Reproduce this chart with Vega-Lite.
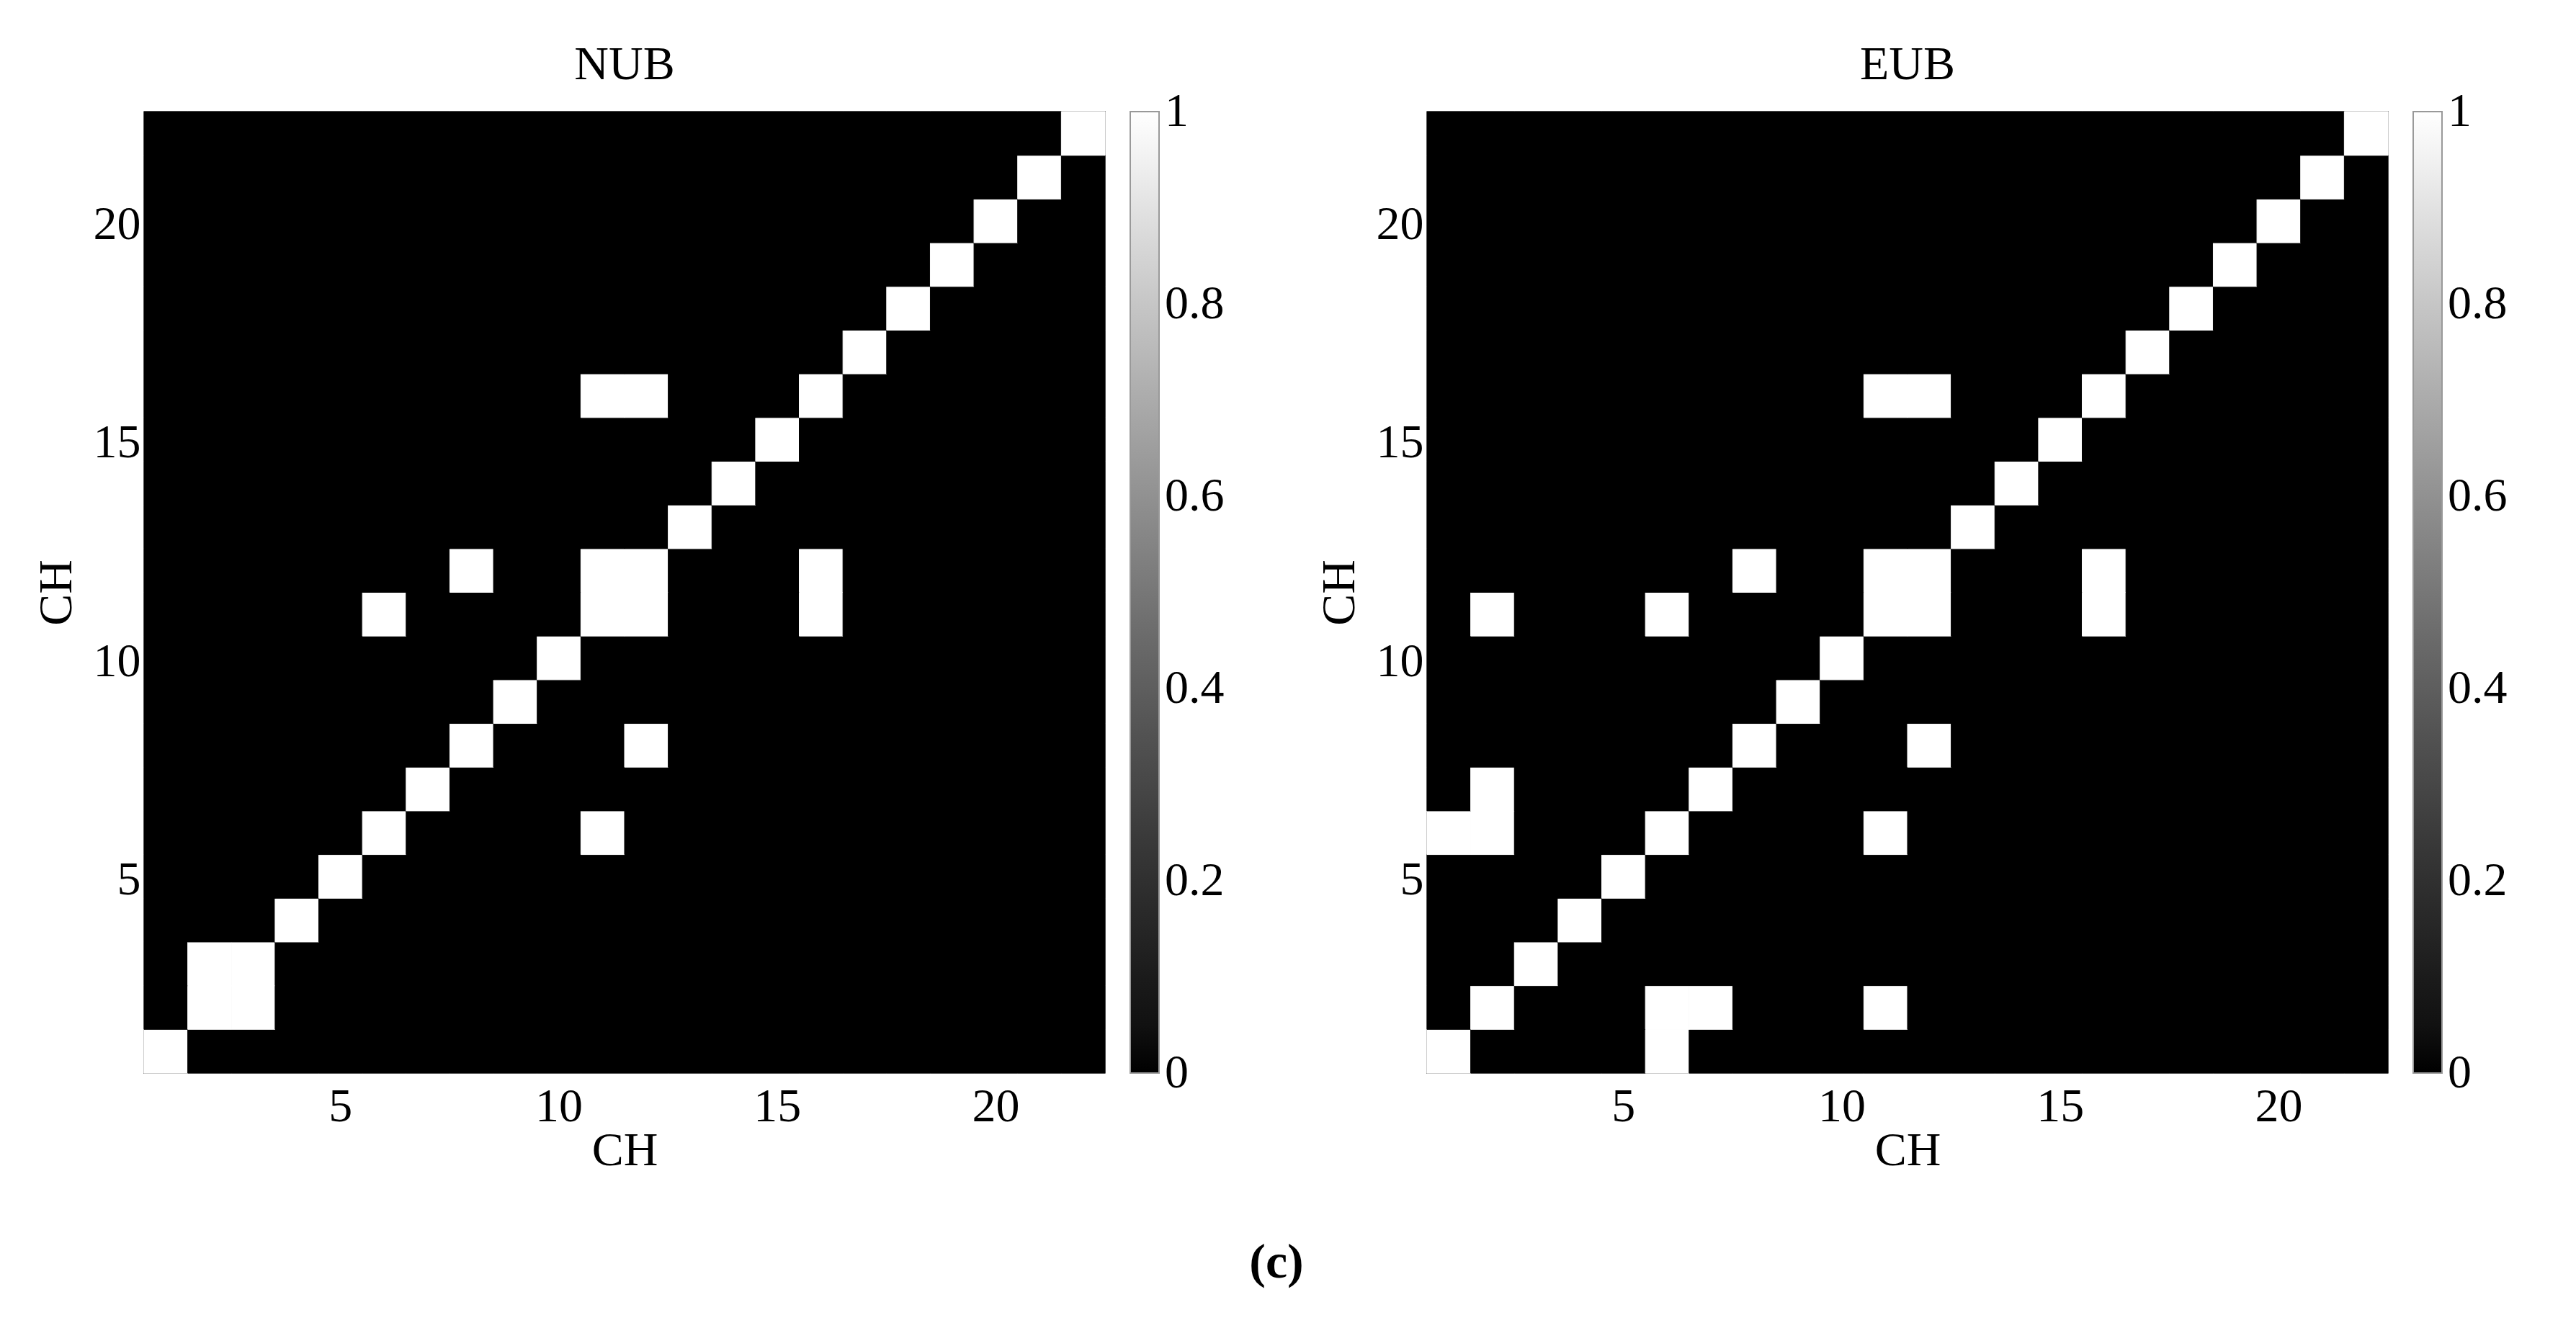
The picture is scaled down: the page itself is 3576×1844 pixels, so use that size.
{
"$schema": "https://vega.github.io/schema/vega-lite/v6.json",
"background": "white",
"padding": {"left": 44, "top": 55, "right": 20, "bottom": 20},
"title": {"text": "(c)", "orient": "bottom", "anchor": "middle", "fontSize": 68, "fontWeight": "bold", "offset": 89, "dx": 9},
"config": {
  "font": "Liberation Serif",
  "view": {"stroke": "#999999", "strokeWidth": 2, "fill": "#000000"},
  "axis": {"labelFont": "Liberation Serif", "labelFontSize": 66, "labelColor": "#000000", "titleFont": "Liberation Serif", "titleFontSize": 66, "titleFontWeight": "normal", "titleColor": "#000000", "ticks": false, "tickSize": 0, "domain": false, "grid": false},
  "axisX": {"labelPadding": 14, "titlePadding": -4, "labelAngle": 0},
  "axisY": {"labelPadding": 5, "titlePadding": 17, "labelOffset": 5},
  "title": {"font": "Liberation Serif", "fontSize": 66, "fontWeight": "normal", "color": "#000000"}
},
"datasets": {
"nub": [
{"x":1,"y":1,"v":1},{"x":2,"y":1,"v":0},{"x":3,"y":1,"v":0},{"x":4,"y":1,"v":0},{"x":5,"y":1,"v":0},{"x":6,"y":1,"v":0},{"x":7,"y":1,"v":0},{"x":8,"y":1,"v":0},{"x":9,"y":1,"v":0},{"x":10,"y":1,"v":0},{"x":11,"y":1,"v":0},{"x":12,"y":1,"v":0},{"x":13,"y":1,"v":0},{"x":14,"y":1,"v":0},{"x":15,"y":1,"v":0},{"x":16,"y":1,"v":0},{"x":17,"y":1,"v":0},{"x":18,"y":1,"v":0},{"x":19,"y":1,"v":0},{"x":20,"y":1,"v":0},{"x":21,"y":1,"v":0},{"x":22,"y":1,"v":0},
{"x":1,"y":2,"v":0},{"x":2,"y":2,"v":1},{"x":3,"y":2,"v":1},{"x":4,"y":2,"v":0},{"x":5,"y":2,"v":0},{"x":6,"y":2,"v":0},{"x":7,"y":2,"v":0},{"x":8,"y":2,"v":0},{"x":9,"y":2,"v":0},{"x":10,"y":2,"v":0},{"x":11,"y":2,"v":0},{"x":12,"y":2,"v":0},{"x":13,"y":2,"v":0},{"x":14,"y":2,"v":0},{"x":15,"y":2,"v":0},{"x":16,"y":2,"v":0},{"x":17,"y":2,"v":0},{"x":18,"y":2,"v":0},{"x":19,"y":2,"v":0},{"x":20,"y":2,"v":0},{"x":21,"y":2,"v":0},{"x":22,"y":2,"v":0},
{"x":1,"y":3,"v":0},{"x":2,"y":3,"v":1},{"x":3,"y":3,"v":1},{"x":4,"y":3,"v":0},{"x":5,"y":3,"v":0},{"x":6,"y":3,"v":0},{"x":7,"y":3,"v":0},{"x":8,"y":3,"v":0},{"x":9,"y":3,"v":0},{"x":10,"y":3,"v":0},{"x":11,"y":3,"v":0},{"x":12,"y":3,"v":0},{"x":13,"y":3,"v":0},{"x":14,"y":3,"v":0},{"x":15,"y":3,"v":0},{"x":16,"y":3,"v":0},{"x":17,"y":3,"v":0},{"x":18,"y":3,"v":0},{"x":19,"y":3,"v":0},{"x":20,"y":3,"v":0},{"x":21,"y":3,"v":0},{"x":22,"y":3,"v":0},
{"x":1,"y":4,"v":0},{"x":2,"y":4,"v":0},{"x":3,"y":4,"v":0},{"x":4,"y":4,"v":1},{"x":5,"y":4,"v":0},{"x":6,"y":4,"v":0},{"x":7,"y":4,"v":0},{"x":8,"y":4,"v":0},{"x":9,"y":4,"v":0},{"x":10,"y":4,"v":0},{"x":11,"y":4,"v":0},{"x":12,"y":4,"v":0},{"x":13,"y":4,"v":0},{"x":14,"y":4,"v":0},{"x":15,"y":4,"v":0},{"x":16,"y":4,"v":0},{"x":17,"y":4,"v":0},{"x":18,"y":4,"v":0},{"x":19,"y":4,"v":0},{"x":20,"y":4,"v":0},{"x":21,"y":4,"v":0},{"x":22,"y":4,"v":0},
{"x":1,"y":5,"v":0},{"x":2,"y":5,"v":0},{"x":3,"y":5,"v":0},{"x":4,"y":5,"v":0},{"x":5,"y":5,"v":1},{"x":6,"y":5,"v":0},{"x":7,"y":5,"v":0},{"x":8,"y":5,"v":0},{"x":9,"y":5,"v":0},{"x":10,"y":5,"v":0},{"x":11,"y":5,"v":0},{"x":12,"y":5,"v":0},{"x":13,"y":5,"v":0},{"x":14,"y":5,"v":0},{"x":15,"y":5,"v":0},{"x":16,"y":5,"v":0},{"x":17,"y":5,"v":0},{"x":18,"y":5,"v":0},{"x":19,"y":5,"v":0},{"x":20,"y":5,"v":0},{"x":21,"y":5,"v":0},{"x":22,"y":5,"v":0},
{"x":1,"y":6,"v":0},{"x":2,"y":6,"v":0},{"x":3,"y":6,"v":0},{"x":4,"y":6,"v":0},{"x":5,"y":6,"v":0},{"x":6,"y":6,"v":1},{"x":7,"y":6,"v":0},{"x":8,"y":6,"v":0},{"x":9,"y":6,"v":0},{"x":10,"y":6,"v":0},{"x":11,"y":6,"v":1},{"x":12,"y":6,"v":0},{"x":13,"y":6,"v":0},{"x":14,"y":6,"v":0},{"x":15,"y":6,"v":0},{"x":16,"y":6,"v":0},{"x":17,"y":6,"v":0},{"x":18,"y":6,"v":0},{"x":19,"y":6,"v":0},{"x":20,"y":6,"v":0},{"x":21,"y":6,"v":0},{"x":22,"y":6,"v":0},
{"x":1,"y":7,"v":0},{"x":2,"y":7,"v":0},{"x":3,"y":7,"v":0},{"x":4,"y":7,"v":0},{"x":5,"y":7,"v":0},{"x":6,"y":7,"v":0},{"x":7,"y":7,"v":1},{"x":8,"y":7,"v":0},{"x":9,"y":7,"v":0},{"x":10,"y":7,"v":0},{"x":11,"y":7,"v":0},{"x":12,"y":7,"v":0},{"x":13,"y":7,"v":0},{"x":14,"y":7,"v":0},{"x":15,"y":7,"v":0},{"x":16,"y":7,"v":0},{"x":17,"y":7,"v":0},{"x":18,"y":7,"v":0},{"x":19,"y":7,"v":0},{"x":20,"y":7,"v":0},{"x":21,"y":7,"v":0},{"x":22,"y":7,"v":0},
{"x":1,"y":8,"v":0},{"x":2,"y":8,"v":0},{"x":3,"y":8,"v":0},{"x":4,"y":8,"v":0},{"x":5,"y":8,"v":0},{"x":6,"y":8,"v":0},{"x":7,"y":8,"v":0},{"x":8,"y":8,"v":1},{"x":9,"y":8,"v":0},{"x":10,"y":8,"v":0},{"x":11,"y":8,"v":0},{"x":12,"y":8,"v":1},{"x":13,"y":8,"v":0},{"x":14,"y":8,"v":0},{"x":15,"y":8,"v":0},{"x":16,"y":8,"v":0},{"x":17,"y":8,"v":0},{"x":18,"y":8,"v":0},{"x":19,"y":8,"v":0},{"x":20,"y":8,"v":0},{"x":21,"y":8,"v":0},{"x":22,"y":8,"v":0},
{"x":1,"y":9,"v":0},{"x":2,"y":9,"v":0},{"x":3,"y":9,"v":0},{"x":4,"y":9,"v":0},{"x":5,"y":9,"v":0},{"x":6,"y":9,"v":0},{"x":7,"y":9,"v":0},{"x":8,"y":9,"v":0},{"x":9,"y":9,"v":1},{"x":10,"y":9,"v":0},{"x":11,"y":9,"v":0},{"x":12,"y":9,"v":0},{"x":13,"y":9,"v":0},{"x":14,"y":9,"v":0},{"x":15,"y":9,"v":0},{"x":16,"y":9,"v":0},{"x":17,"y":9,"v":0},{"x":18,"y":9,"v":0},{"x":19,"y":9,"v":0},{"x":20,"y":9,"v":0},{"x":21,"y":9,"v":0},{"x":22,"y":9,"v":0},
{"x":1,"y":10,"v":0},{"x":2,"y":10,"v":0},{"x":3,"y":10,"v":0},{"x":4,"y":10,"v":0},{"x":5,"y":10,"v":0},{"x":6,"y":10,"v":0},{"x":7,"y":10,"v":0},{"x":8,"y":10,"v":0},{"x":9,"y":10,"v":0},{"x":10,"y":10,"v":1},{"x":11,"y":10,"v":0},{"x":12,"y":10,"v":0},{"x":13,"y":10,"v":0},{"x":14,"y":10,"v":0},{"x":15,"y":10,"v":0},{"x":16,"y":10,"v":0},{"x":17,"y":10,"v":0},{"x":18,"y":10,"v":0},{"x":19,"y":10,"v":0},{"x":20,"y":10,"v":0},{"x":21,"y":10,"v":0},{"x":22,"y":10,"v":0},
{"x":1,"y":11,"v":0},{"x":2,"y":11,"v":0},{"x":3,"y":11,"v":0},{"x":4,"y":11,"v":0},{"x":5,"y":11,"v":0},{"x":6,"y":11,"v":1},{"x":7,"y":11,"v":0},{"x":8,"y":11,"v":0},{"x":9,"y":11,"v":0},{"x":10,"y":11,"v":0},{"x":11,"y":11,"v":1},{"x":12,"y":11,"v":1},{"x":13,"y":11,"v":0},{"x":14,"y":11,"v":0},{"x":15,"y":11,"v":0},{"x":16,"y":11,"v":1},{"x":17,"y":11,"v":0},{"x":18,"y":11,"v":0},{"x":19,"y":11,"v":0},{"x":20,"y":11,"v":0},{"x":21,"y":11,"v":0},{"x":22,"y":11,"v":0},
{"x":1,"y":12,"v":0},{"x":2,"y":12,"v":0},{"x":3,"y":12,"v":0},{"x":4,"y":12,"v":0},{"x":5,"y":12,"v":0},{"x":6,"y":12,"v":0},{"x":7,"y":12,"v":0},{"x":8,"y":12,"v":1},{"x":9,"y":12,"v":0},{"x":10,"y":12,"v":0},{"x":11,"y":12,"v":1},{"x":12,"y":12,"v":1},{"x":13,"y":12,"v":0},{"x":14,"y":12,"v":0},{"x":15,"y":12,"v":0},{"x":16,"y":12,"v":1},{"x":17,"y":12,"v":0},{"x":18,"y":12,"v":0},{"x":19,"y":12,"v":0},{"x":20,"y":12,"v":0},{"x":21,"y":12,"v":0},{"x":22,"y":12,"v":0},
{"x":1,"y":13,"v":0},{"x":2,"y":13,"v":0},{"x":3,"y":13,"v":0},{"x":4,"y":13,"v":0},{"x":5,"y":13,"v":0},{"x":6,"y":13,"v":0},{"x":7,"y":13,"v":0},{"x":8,"y":13,"v":0},{"x":9,"y":13,"v":0},{"x":10,"y":13,"v":0},{"x":11,"y":13,"v":0},{"x":12,"y":13,"v":0},{"x":13,"y":13,"v":1},{"x":14,"y":13,"v":0},{"x":15,"y":13,"v":0},{"x":16,"y":13,"v":0},{"x":17,"y":13,"v":0},{"x":18,"y":13,"v":0},{"x":19,"y":13,"v":0},{"x":20,"y":13,"v":0},{"x":21,"y":13,"v":0},{"x":22,"y":13,"v":0},
{"x":1,"y":14,"v":0},{"x":2,"y":14,"v":0},{"x":3,"y":14,"v":0},{"x":4,"y":14,"v":0},{"x":5,"y":14,"v":0},{"x":6,"y":14,"v":0},{"x":7,"y":14,"v":0},{"x":8,"y":14,"v":0},{"x":9,"y":14,"v":0},{"x":10,"y":14,"v":0},{"x":11,"y":14,"v":0},{"x":12,"y":14,"v":0},{"x":13,"y":14,"v":0},{"x":14,"y":14,"v":1},{"x":15,"y":14,"v":0},{"x":16,"y":14,"v":0},{"x":17,"y":14,"v":0},{"x":18,"y":14,"v":0},{"x":19,"y":14,"v":0},{"x":20,"y":14,"v":0},{"x":21,"y":14,"v":0},{"x":22,"y":14,"v":0},
{"x":1,"y":15,"v":0},{"x":2,"y":15,"v":0},{"x":3,"y":15,"v":0},{"x":4,"y":15,"v":0},{"x":5,"y":15,"v":0},{"x":6,"y":15,"v":0},{"x":7,"y":15,"v":0},{"x":8,"y":15,"v":0},{"x":9,"y":15,"v":0},{"x":10,"y":15,"v":0},{"x":11,"y":15,"v":0},{"x":12,"y":15,"v":0},{"x":13,"y":15,"v":0},{"x":14,"y":15,"v":0},{"x":15,"y":15,"v":1},{"x":16,"y":15,"v":0},{"x":17,"y":15,"v":0},{"x":18,"y":15,"v":0},{"x":19,"y":15,"v":0},{"x":20,"y":15,"v":0},{"x":21,"y":15,"v":0},{"x":22,"y":15,"v":0},
{"x":1,"y":16,"v":0},{"x":2,"y":16,"v":0},{"x":3,"y":16,"v":0},{"x":4,"y":16,"v":0},{"x":5,"y":16,"v":0},{"x":6,"y":16,"v":0},{"x":7,"y":16,"v":0},{"x":8,"y":16,"v":0},{"x":9,"y":16,"v":0},{"x":10,"y":16,"v":0},{"x":11,"y":16,"v":1},{"x":12,"y":16,"v":1},{"x":13,"y":16,"v":0},{"x":14,"y":16,"v":0},{"x":15,"y":16,"v":0},{"x":16,"y":16,"v":1},{"x":17,"y":16,"v":0},{"x":18,"y":16,"v":0},{"x":19,"y":16,"v":0},{"x":20,"y":16,"v":0},{"x":21,"y":16,"v":0},{"x":22,"y":16,"v":0},
{"x":1,"y":17,"v":0},{"x":2,"y":17,"v":0},{"x":3,"y":17,"v":0},{"x":4,"y":17,"v":0},{"x":5,"y":17,"v":0},{"x":6,"y":17,"v":0},{"x":7,"y":17,"v":0},{"x":8,"y":17,"v":0},{"x":9,"y":17,"v":0},{"x":10,"y":17,"v":0},{"x":11,"y":17,"v":0},{"x":12,"y":17,"v":0},{"x":13,"y":17,"v":0},{"x":14,"y":17,"v":0},{"x":15,"y":17,"v":0},{"x":16,"y":17,"v":0},{"x":17,"y":17,"v":1},{"x":18,"y":17,"v":0},{"x":19,"y":17,"v":0},{"x":20,"y":17,"v":0},{"x":21,"y":17,"v":0},{"x":22,"y":17,"v":0},
{"x":1,"y":18,"v":0},{"x":2,"y":18,"v":0},{"x":3,"y":18,"v":0},{"x":4,"y":18,"v":0},{"x":5,"y":18,"v":0},{"x":6,"y":18,"v":0},{"x":7,"y":18,"v":0},{"x":8,"y":18,"v":0},{"x":9,"y":18,"v":0},{"x":10,"y":18,"v":0},{"x":11,"y":18,"v":0},{"x":12,"y":18,"v":0},{"x":13,"y":18,"v":0},{"x":14,"y":18,"v":0},{"x":15,"y":18,"v":0},{"x":16,"y":18,"v":0},{"x":17,"y":18,"v":0},{"x":18,"y":18,"v":1},{"x":19,"y":18,"v":0},{"x":20,"y":18,"v":0},{"x":21,"y":18,"v":0},{"x":22,"y":18,"v":0},
{"x":1,"y":19,"v":0},{"x":2,"y":19,"v":0},{"x":3,"y":19,"v":0},{"x":4,"y":19,"v":0},{"x":5,"y":19,"v":0},{"x":6,"y":19,"v":0},{"x":7,"y":19,"v":0},{"x":8,"y":19,"v":0},{"x":9,"y":19,"v":0},{"x":10,"y":19,"v":0},{"x":11,"y":19,"v":0},{"x":12,"y":19,"v":0},{"x":13,"y":19,"v":0},{"x":14,"y":19,"v":0},{"x":15,"y":19,"v":0},{"x":16,"y":19,"v":0},{"x":17,"y":19,"v":0},{"x":18,"y":19,"v":0},{"x":19,"y":19,"v":1},{"x":20,"y":19,"v":0},{"x":21,"y":19,"v":0},{"x":22,"y":19,"v":0},
{"x":1,"y":20,"v":0},{"x":2,"y":20,"v":0},{"x":3,"y":20,"v":0},{"x":4,"y":20,"v":0},{"x":5,"y":20,"v":0},{"x":6,"y":20,"v":0},{"x":7,"y":20,"v":0},{"x":8,"y":20,"v":0},{"x":9,"y":20,"v":0},{"x":10,"y":20,"v":0},{"x":11,"y":20,"v":0},{"x":12,"y":20,"v":0},{"x":13,"y":20,"v":0},{"x":14,"y":20,"v":0},{"x":15,"y":20,"v":0},{"x":16,"y":20,"v":0},{"x":17,"y":20,"v":0},{"x":18,"y":20,"v":0},{"x":19,"y":20,"v":0},{"x":20,"y":20,"v":1},{"x":21,"y":20,"v":0},{"x":22,"y":20,"v":0},
{"x":1,"y":21,"v":0},{"x":2,"y":21,"v":0},{"x":3,"y":21,"v":0},{"x":4,"y":21,"v":0},{"x":5,"y":21,"v":0},{"x":6,"y":21,"v":0},{"x":7,"y":21,"v":0},{"x":8,"y":21,"v":0},{"x":9,"y":21,"v":0},{"x":10,"y":21,"v":0},{"x":11,"y":21,"v":0},{"x":12,"y":21,"v":0},{"x":13,"y":21,"v":0},{"x":14,"y":21,"v":0},{"x":15,"y":21,"v":0},{"x":16,"y":21,"v":0},{"x":17,"y":21,"v":0},{"x":18,"y":21,"v":0},{"x":19,"y":21,"v":0},{"x":20,"y":21,"v":0},{"x":21,"y":21,"v":1},{"x":22,"y":21,"v":0},
{"x":1,"y":22,"v":0},{"x":2,"y":22,"v":0},{"x":3,"y":22,"v":0},{"x":4,"y":22,"v":0},{"x":5,"y":22,"v":0},{"x":6,"y":22,"v":0},{"x":7,"y":22,"v":0},{"x":8,"y":22,"v":0},{"x":9,"y":22,"v":0},{"x":10,"y":22,"v":0},{"x":11,"y":22,"v":0},{"x":12,"y":22,"v":0},{"x":13,"y":22,"v":0},{"x":14,"y":22,"v":0},{"x":15,"y":22,"v":0},{"x":16,"y":22,"v":0},{"x":17,"y":22,"v":0},{"x":18,"y":22,"v":0},{"x":19,"y":22,"v":0},{"x":20,"y":22,"v":0},{"x":21,"y":22,"v":0},{"x":22,"y":22,"v":1}
],
"eub": [
{"x":1,"y":1,"v":1},{"x":2,"y":1,"v":0},{"x":3,"y":1,"v":0},{"x":4,"y":1,"v":0},{"x":5,"y":1,"v":0},{"x":6,"y":1,"v":1},{"x":7,"y":1,"v":0},{"x":8,"y":1,"v":0},{"x":9,"y":1,"v":0},{"x":10,"y":1,"v":0},{"x":11,"y":1,"v":0},{"x":12,"y":1,"v":0},{"x":13,"y":1,"v":0},{"x":14,"y":1,"v":0},{"x":15,"y":1,"v":0},{"x":16,"y":1,"v":0},{"x":17,"y":1,"v":0},{"x":18,"y":1,"v":0},{"x":19,"y":1,"v":0},{"x":20,"y":1,"v":0},{"x":21,"y":1,"v":0},{"x":22,"y":1,"v":0},
{"x":1,"y":2,"v":0},{"x":2,"y":2,"v":1},{"x":3,"y":2,"v":0},{"x":4,"y":2,"v":0},{"x":5,"y":2,"v":0},{"x":6,"y":2,"v":1},{"x":7,"y":2,"v":1},{"x":8,"y":2,"v":0},{"x":9,"y":2,"v":0},{"x":10,"y":2,"v":0},{"x":11,"y":2,"v":1},{"x":12,"y":2,"v":0},{"x":13,"y":2,"v":0},{"x":14,"y":2,"v":0},{"x":15,"y":2,"v":0},{"x":16,"y":2,"v":0},{"x":17,"y":2,"v":0},{"x":18,"y":2,"v":0},{"x":19,"y":2,"v":0},{"x":20,"y":2,"v":0},{"x":21,"y":2,"v":0},{"x":22,"y":2,"v":0},
{"x":1,"y":3,"v":0},{"x":2,"y":3,"v":0},{"x":3,"y":3,"v":1},{"x":4,"y":3,"v":0},{"x":5,"y":3,"v":0},{"x":6,"y":3,"v":0},{"x":7,"y":3,"v":0},{"x":8,"y":3,"v":0},{"x":9,"y":3,"v":0},{"x":10,"y":3,"v":0},{"x":11,"y":3,"v":0},{"x":12,"y":3,"v":0},{"x":13,"y":3,"v":0},{"x":14,"y":3,"v":0},{"x":15,"y":3,"v":0},{"x":16,"y":3,"v":0},{"x":17,"y":3,"v":0},{"x":18,"y":3,"v":0},{"x":19,"y":3,"v":0},{"x":20,"y":3,"v":0},{"x":21,"y":3,"v":0},{"x":22,"y":3,"v":0},
{"x":1,"y":4,"v":0},{"x":2,"y":4,"v":0},{"x":3,"y":4,"v":0},{"x":4,"y":4,"v":1},{"x":5,"y":4,"v":0},{"x":6,"y":4,"v":0},{"x":7,"y":4,"v":0},{"x":8,"y":4,"v":0},{"x":9,"y":4,"v":0},{"x":10,"y":4,"v":0},{"x":11,"y":4,"v":0},{"x":12,"y":4,"v":0},{"x":13,"y":4,"v":0},{"x":14,"y":4,"v":0},{"x":15,"y":4,"v":0},{"x":16,"y":4,"v":0},{"x":17,"y":4,"v":0},{"x":18,"y":4,"v":0},{"x":19,"y":4,"v":0},{"x":20,"y":4,"v":0},{"x":21,"y":4,"v":0},{"x":22,"y":4,"v":0},
{"x":1,"y":5,"v":0},{"x":2,"y":5,"v":0},{"x":3,"y":5,"v":0},{"x":4,"y":5,"v":0},{"x":5,"y":5,"v":1},{"x":6,"y":5,"v":0},{"x":7,"y":5,"v":0},{"x":8,"y":5,"v":0},{"x":9,"y":5,"v":0},{"x":10,"y":5,"v":0},{"x":11,"y":5,"v":0},{"x":12,"y":5,"v":0},{"x":13,"y":5,"v":0},{"x":14,"y":5,"v":0},{"x":15,"y":5,"v":0},{"x":16,"y":5,"v":0},{"x":17,"y":5,"v":0},{"x":18,"y":5,"v":0},{"x":19,"y":5,"v":0},{"x":20,"y":5,"v":0},{"x":21,"y":5,"v":0},{"x":22,"y":5,"v":0},
{"x":1,"y":6,"v":1},{"x":2,"y":6,"v":1},{"x":3,"y":6,"v":0},{"x":4,"y":6,"v":0},{"x":5,"y":6,"v":0},{"x":6,"y":6,"v":1},{"x":7,"y":6,"v":0},{"x":8,"y":6,"v":0},{"x":9,"y":6,"v":0},{"x":10,"y":6,"v":0},{"x":11,"y":6,"v":1},{"x":12,"y":6,"v":0},{"x":13,"y":6,"v":0},{"x":14,"y":6,"v":0},{"x":15,"y":6,"v":0},{"x":16,"y":6,"v":0},{"x":17,"y":6,"v":0},{"x":18,"y":6,"v":0},{"x":19,"y":6,"v":0},{"x":20,"y":6,"v":0},{"x":21,"y":6,"v":0},{"x":22,"y":6,"v":0},
{"x":1,"y":7,"v":0},{"x":2,"y":7,"v":1},{"x":3,"y":7,"v":0},{"x":4,"y":7,"v":0},{"x":5,"y":7,"v":0},{"x":6,"y":7,"v":0},{"x":7,"y":7,"v":1},{"x":8,"y":7,"v":0},{"x":9,"y":7,"v":0},{"x":10,"y":7,"v":0},{"x":11,"y":7,"v":0},{"x":12,"y":7,"v":0},{"x":13,"y":7,"v":0},{"x":14,"y":7,"v":0},{"x":15,"y":7,"v":0},{"x":16,"y":7,"v":0},{"x":17,"y":7,"v":0},{"x":18,"y":7,"v":0},{"x":19,"y":7,"v":0},{"x":20,"y":7,"v":0},{"x":21,"y":7,"v":0},{"x":22,"y":7,"v":0},
{"x":1,"y":8,"v":0},{"x":2,"y":8,"v":0},{"x":3,"y":8,"v":0},{"x":4,"y":8,"v":0},{"x":5,"y":8,"v":0},{"x":6,"y":8,"v":0},{"x":7,"y":8,"v":0},{"x":8,"y":8,"v":1},{"x":9,"y":8,"v":0},{"x":10,"y":8,"v":0},{"x":11,"y":8,"v":0},{"x":12,"y":8,"v":1},{"x":13,"y":8,"v":0},{"x":14,"y":8,"v":0},{"x":15,"y":8,"v":0},{"x":16,"y":8,"v":0},{"x":17,"y":8,"v":0},{"x":18,"y":8,"v":0},{"x":19,"y":8,"v":0},{"x":20,"y":8,"v":0},{"x":21,"y":8,"v":0},{"x":22,"y":8,"v":0},
{"x":1,"y":9,"v":0},{"x":2,"y":9,"v":0},{"x":3,"y":9,"v":0},{"x":4,"y":9,"v":0},{"x":5,"y":9,"v":0},{"x":6,"y":9,"v":0},{"x":7,"y":9,"v":0},{"x":8,"y":9,"v":0},{"x":9,"y":9,"v":1},{"x":10,"y":9,"v":0},{"x":11,"y":9,"v":0},{"x":12,"y":9,"v":0},{"x":13,"y":9,"v":0},{"x":14,"y":9,"v":0},{"x":15,"y":9,"v":0},{"x":16,"y":9,"v":0},{"x":17,"y":9,"v":0},{"x":18,"y":9,"v":0},{"x":19,"y":9,"v":0},{"x":20,"y":9,"v":0},{"x":21,"y":9,"v":0},{"x":22,"y":9,"v":0},
{"x":1,"y":10,"v":0},{"x":2,"y":10,"v":0},{"x":3,"y":10,"v":0},{"x":4,"y":10,"v":0},{"x":5,"y":10,"v":0},{"x":6,"y":10,"v":0},{"x":7,"y":10,"v":0},{"x":8,"y":10,"v":0},{"x":9,"y":10,"v":0},{"x":10,"y":10,"v":1},{"x":11,"y":10,"v":0},{"x":12,"y":10,"v":0},{"x":13,"y":10,"v":0},{"x":14,"y":10,"v":0},{"x":15,"y":10,"v":0},{"x":16,"y":10,"v":0},{"x":17,"y":10,"v":0},{"x":18,"y":10,"v":0},{"x":19,"y":10,"v":0},{"x":20,"y":10,"v":0},{"x":21,"y":10,"v":0},{"x":22,"y":10,"v":0},
{"x":1,"y":11,"v":0},{"x":2,"y":11,"v":1},{"x":3,"y":11,"v":0},{"x":4,"y":11,"v":0},{"x":5,"y":11,"v":0},{"x":6,"y":11,"v":1},{"x":7,"y":11,"v":0},{"x":8,"y":11,"v":0},{"x":9,"y":11,"v":0},{"x":10,"y":11,"v":0},{"x":11,"y":11,"v":1},{"x":12,"y":11,"v":1},{"x":13,"y":11,"v":0},{"x":14,"y":11,"v":0},{"x":15,"y":11,"v":0},{"x":16,"y":11,"v":1},{"x":17,"y":11,"v":0},{"x":18,"y":11,"v":0},{"x":19,"y":11,"v":0},{"x":20,"y":11,"v":0},{"x":21,"y":11,"v":0},{"x":22,"y":11,"v":0},
{"x":1,"y":12,"v":0},{"x":2,"y":12,"v":0},{"x":3,"y":12,"v":0},{"x":4,"y":12,"v":0},{"x":5,"y":12,"v":0},{"x":6,"y":12,"v":0},{"x":7,"y":12,"v":0},{"x":8,"y":12,"v":1},{"x":9,"y":12,"v":0},{"x":10,"y":12,"v":0},{"x":11,"y":12,"v":1},{"x":12,"y":12,"v":1},{"x":13,"y":12,"v":0},{"x":14,"y":12,"v":0},{"x":15,"y":12,"v":0},{"x":16,"y":12,"v":1},{"x":17,"y":12,"v":0},{"x":18,"y":12,"v":0},{"x":19,"y":12,"v":0},{"x":20,"y":12,"v":0},{"x":21,"y":12,"v":0},{"x":22,"y":12,"v":0},
{"x":1,"y":13,"v":0},{"x":2,"y":13,"v":0},{"x":3,"y":13,"v":0},{"x":4,"y":13,"v":0},{"x":5,"y":13,"v":0},{"x":6,"y":13,"v":0},{"x":7,"y":13,"v":0},{"x":8,"y":13,"v":0},{"x":9,"y":13,"v":0},{"x":10,"y":13,"v":0},{"x":11,"y":13,"v":0},{"x":12,"y":13,"v":0},{"x":13,"y":13,"v":1},{"x":14,"y":13,"v":0},{"x":15,"y":13,"v":0},{"x":16,"y":13,"v":0},{"x":17,"y":13,"v":0},{"x":18,"y":13,"v":0},{"x":19,"y":13,"v":0},{"x":20,"y":13,"v":0},{"x":21,"y":13,"v":0},{"x":22,"y":13,"v":0},
{"x":1,"y":14,"v":0},{"x":2,"y":14,"v":0},{"x":3,"y":14,"v":0},{"x":4,"y":14,"v":0},{"x":5,"y":14,"v":0},{"x":6,"y":14,"v":0},{"x":7,"y":14,"v":0},{"x":8,"y":14,"v":0},{"x":9,"y":14,"v":0},{"x":10,"y":14,"v":0},{"x":11,"y":14,"v":0},{"x":12,"y":14,"v":0},{"x":13,"y":14,"v":0},{"x":14,"y":14,"v":1},{"x":15,"y":14,"v":0},{"x":16,"y":14,"v":0},{"x":17,"y":14,"v":0},{"x":18,"y":14,"v":0},{"x":19,"y":14,"v":0},{"x":20,"y":14,"v":0},{"x":21,"y":14,"v":0},{"x":22,"y":14,"v":0},
{"x":1,"y":15,"v":0},{"x":2,"y":15,"v":0},{"x":3,"y":15,"v":0},{"x":4,"y":15,"v":0},{"x":5,"y":15,"v":0},{"x":6,"y":15,"v":0},{"x":7,"y":15,"v":0},{"x":8,"y":15,"v":0},{"x":9,"y":15,"v":0},{"x":10,"y":15,"v":0},{"x":11,"y":15,"v":0},{"x":12,"y":15,"v":0},{"x":13,"y":15,"v":0},{"x":14,"y":15,"v":0},{"x":15,"y":15,"v":1},{"x":16,"y":15,"v":0},{"x":17,"y":15,"v":0},{"x":18,"y":15,"v":0},{"x":19,"y":15,"v":0},{"x":20,"y":15,"v":0},{"x":21,"y":15,"v":0},{"x":22,"y":15,"v":0},
{"x":1,"y":16,"v":0},{"x":2,"y":16,"v":0},{"x":3,"y":16,"v":0},{"x":4,"y":16,"v":0},{"x":5,"y":16,"v":0},{"x":6,"y":16,"v":0},{"x":7,"y":16,"v":0},{"x":8,"y":16,"v":0},{"x":9,"y":16,"v":0},{"x":10,"y":16,"v":0},{"x":11,"y":16,"v":1},{"x":12,"y":16,"v":1},{"x":13,"y":16,"v":0},{"x":14,"y":16,"v":0},{"x":15,"y":16,"v":0},{"x":16,"y":16,"v":1},{"x":17,"y":16,"v":0},{"x":18,"y":16,"v":0},{"x":19,"y":16,"v":0},{"x":20,"y":16,"v":0},{"x":21,"y":16,"v":0},{"x":22,"y":16,"v":0},
{"x":1,"y":17,"v":0},{"x":2,"y":17,"v":0},{"x":3,"y":17,"v":0},{"x":4,"y":17,"v":0},{"x":5,"y":17,"v":0},{"x":6,"y":17,"v":0},{"x":7,"y":17,"v":0},{"x":8,"y":17,"v":0},{"x":9,"y":17,"v":0},{"x":10,"y":17,"v":0},{"x":11,"y":17,"v":0},{"x":12,"y":17,"v":0},{"x":13,"y":17,"v":0},{"x":14,"y":17,"v":0},{"x":15,"y":17,"v":0},{"x":16,"y":17,"v":0},{"x":17,"y":17,"v":1},{"x":18,"y":17,"v":0},{"x":19,"y":17,"v":0},{"x":20,"y":17,"v":0},{"x":21,"y":17,"v":0},{"x":22,"y":17,"v":0},
{"x":1,"y":18,"v":0},{"x":2,"y":18,"v":0},{"x":3,"y":18,"v":0},{"x":4,"y":18,"v":0},{"x":5,"y":18,"v":0},{"x":6,"y":18,"v":0},{"x":7,"y":18,"v":0},{"x":8,"y":18,"v":0},{"x":9,"y":18,"v":0},{"x":10,"y":18,"v":0},{"x":11,"y":18,"v":0},{"x":12,"y":18,"v":0},{"x":13,"y":18,"v":0},{"x":14,"y":18,"v":0},{"x":15,"y":18,"v":0},{"x":16,"y":18,"v":0},{"x":17,"y":18,"v":0},{"x":18,"y":18,"v":1},{"x":19,"y":18,"v":0},{"x":20,"y":18,"v":0},{"x":21,"y":18,"v":0},{"x":22,"y":18,"v":0},
{"x":1,"y":19,"v":0},{"x":2,"y":19,"v":0},{"x":3,"y":19,"v":0},{"x":4,"y":19,"v":0},{"x":5,"y":19,"v":0},{"x":6,"y":19,"v":0},{"x":7,"y":19,"v":0},{"x":8,"y":19,"v":0},{"x":9,"y":19,"v":0},{"x":10,"y":19,"v":0},{"x":11,"y":19,"v":0},{"x":12,"y":19,"v":0},{"x":13,"y":19,"v":0},{"x":14,"y":19,"v":0},{"x":15,"y":19,"v":0},{"x":16,"y":19,"v":0},{"x":17,"y":19,"v":0},{"x":18,"y":19,"v":0},{"x":19,"y":19,"v":1},{"x":20,"y":19,"v":0},{"x":21,"y":19,"v":0},{"x":22,"y":19,"v":0},
{"x":1,"y":20,"v":0},{"x":2,"y":20,"v":0},{"x":3,"y":20,"v":0},{"x":4,"y":20,"v":0},{"x":5,"y":20,"v":0},{"x":6,"y":20,"v":0},{"x":7,"y":20,"v":0},{"x":8,"y":20,"v":0},{"x":9,"y":20,"v":0},{"x":10,"y":20,"v":0},{"x":11,"y":20,"v":0},{"x":12,"y":20,"v":0},{"x":13,"y":20,"v":0},{"x":14,"y":20,"v":0},{"x":15,"y":20,"v":0},{"x":16,"y":20,"v":0},{"x":17,"y":20,"v":0},{"x":18,"y":20,"v":0},{"x":19,"y":20,"v":0},{"x":20,"y":20,"v":1},{"x":21,"y":20,"v":0},{"x":22,"y":20,"v":0},
{"x":1,"y":21,"v":0},{"x":2,"y":21,"v":0},{"x":3,"y":21,"v":0},{"x":4,"y":21,"v":0},{"x":5,"y":21,"v":0},{"x":6,"y":21,"v":0},{"x":7,"y":21,"v":0},{"x":8,"y":21,"v":0},{"x":9,"y":21,"v":0},{"x":10,"y":21,"v":0},{"x":11,"y":21,"v":0},{"x":12,"y":21,"v":0},{"x":13,"y":21,"v":0},{"x":14,"y":21,"v":0},{"x":15,"y":21,"v":0},{"x":16,"y":21,"v":0},{"x":17,"y":21,"v":0},{"x":18,"y":21,"v":0},{"x":19,"y":21,"v":0},{"x":20,"y":21,"v":0},{"x":21,"y":21,"v":1},{"x":22,"y":21,"v":0},
{"x":1,"y":22,"v":0},{"x":2,"y":22,"v":0},{"x":3,"y":22,"v":0},{"x":4,"y":22,"v":0},{"x":5,"y":22,"v":0},{"x":6,"y":22,"v":0},{"x":7,"y":22,"v":0},{"x":8,"y":22,"v":0},{"x":9,"y":22,"v":0},{"x":10,"y":22,"v":0},{"x":11,"y":22,"v":0},{"x":12,"y":22,"v":0},{"x":13,"y":22,"v":0},{"x":14,"y":22,"v":0},{"x":15,"y":22,"v":0},{"x":16,"y":22,"v":0},{"x":17,"y":22,"v":0},{"x":18,"y":22,"v":0},{"x":19,"y":22,"v":0},{"x":20,"y":22,"v":0},{"x":21,"y":22,"v":0},{"x":22,"y":22,"v":1}
]
},
"spacing": 124,
"resolve": {"scale": {"color": "independent"}, "legend": {"color": "independent"}},
"hconcat": [
{
  "width": 1334, "height": 1335,
  "title": {"text": "NUB", "offset": 31},
  "data": {"name": "nub"},
  "mark": {"type": "rect", "strokeWidth": 1},
  "encoding": {
    "x": {"field": "x", "type": "ordinal", "title": "CH", "scale": {"domain": [1,2,3,4,5,6,7,8,9,10,11,12,13,14,15,16,17,18,19,20,21,22], "paddingInner": 0, "paddingOuter": 0}, "axis": {"values": [5,10,15,20], "labelAngle": 0}},
    "y": {"field": "y", "type": "ordinal", "title": "CH", "scale": {"domain": [22,21,20,19,18,17,16,15,14,13,12,11,10,9,8,7,6,5,4,3,2,1], "paddingInner": 0, "paddingOuter": 0}, "axis": {"values": [5,10,15,20]}},
    "color": {"field": "v", "type": "quantitative", "scale": {"domain": [0,1], "range": ["#000000","#ffffff"]}, "legend": {"title": null, "type": "gradient", "values": [0,0.2,0.4,0.6,0.8,1], "format": "~g", "orient": "right", "direction": "vertical", "gradientLength": 1335, "gradientThickness": 40, "gradientStrokeColor": "#999999", "gradientStrokeWidth": 2, "labelFont": "Liberation Serif", "labelFontSize": 66, "labelColor": "#000000", "labelOffset": 8, "labelBaseline": "middle", "labelOverlap": false, "offset": 35, "padding": 0, "encode": {"labels": {"update": {"baseline": {"value": "middle"}}}}}},
    "stroke": {"condition": {"test": "datum.v > 0.5", "value": "#ffffff"}, "value": "#000000"}
  }
},
{
  "width": 1334, "height": 1335,
  "title": {"text": "EUB", "offset": 31},
  "data": {"name": "eub"},
  "mark": {"type": "rect", "strokeWidth": 1},
  "encoding": {
    "x": {"field": "x", "type": "ordinal", "title": "CH", "scale": {"domain": [1,2,3,4,5,6,7,8,9,10,11,12,13,14,15,16,17,18,19,20,21,22], "paddingInner": 0, "paddingOuter": 0}, "axis": {"values": [5,10,15,20], "labelAngle": 0}},
    "y": {"field": "y", "type": "ordinal", "title": "CH", "scale": {"domain": [22,21,20,19,18,17,16,15,14,13,12,11,10,9,8,7,6,5,4,3,2,1], "paddingInner": 0, "paddingOuter": 0}, "axis": {"values": [5,10,15,20]}},
    "color": {"field": "v", "type": "quantitative", "scale": {"domain": [0,1], "range": ["#000000","#ffffff"]}, "legend": {"title": null, "type": "gradient", "values": [0,0.2,0.4,0.6,0.8,1], "format": "~g", "orient": "right", "direction": "vertical", "gradientLength": 1335, "gradientThickness": 40, "gradientStrokeColor": "#999999", "gradientStrokeWidth": 2, "labelFont": "Liberation Serif", "labelFontSize": 66, "labelColor": "#000000", "labelOffset": 8, "labelBaseline": "middle", "labelOverlap": false, "offset": 35, "padding": 0, "encode": {"labels": {"update": {"baseline": {"value": "middle"}}}}}},
    "stroke": {"condition": {"test": "datum.v > 0.5", "value": "#ffffff"}, "value": "#000000"}
  }
}
]
}
